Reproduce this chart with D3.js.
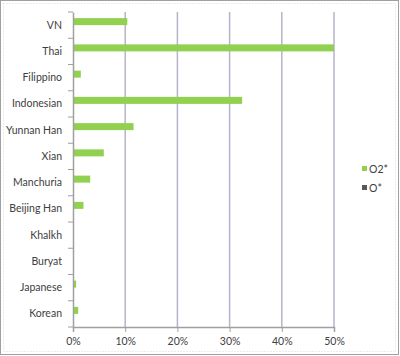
<!DOCTYPE html>
<html><head><meta charset="utf-8">
<script src="https://cdn.jsdelivr.net/npm/d3@7"></script>
<style>body{margin:0;background:#fff}svg{display:block}text{font-family:Lato,"Open Sans",sans-serif}</style>
</head><body>
<script>
const categories = ["VN","Thai","Filippino","Indonesian","Yunnan Han","Xian","Manchuria","Beijing Han","Khalkh","Buryat","Japanese","Korean"];
const seriesNames = ["O2*","O*"];
const o2Values = [10.4, 50, 1.5, 32.4, 11.6, 5.9, 3.3, 2.0, 0, 0, 0.6, 1.0];
const oValues  = [0, 0, 0, 0, 0, 0, 0, 0, 0, 0, 0, 0];
const xTicks = [0,10,20,30,40,50];
const colors = ["#92d050","#595959"];

const W=400,H=356;
const svg=d3.select("body").append("svg").attr("width",W).attr("height",H);
svg.append("rect").attr("x",0.5).attr("y",0.5).attr("width",398).attr("height",354).attr("fill","#fff").attr("stroke","#a0a0a0");
svg.append("rect").attr("x",3.5).attr("y",3.5).attr("width",392).attr("height",348).attr("fill","none").attr("stroke","#d8d8d8").attr("stroke-dasharray","1,2");

const m={l:73,r:334,t:12,b:327};
const x=d3.scaleLinear().domain([0,50]).range([m.l,m.r]);
const y=d3.scaleBand().domain(categories).range([m.t,m.b]);
const barH=7;
const yOff=s=>y.bandwidth()/2 - barH + seriesNames.indexOf(s)*barH;

// gridlines
svg.append("g").selectAll("line").data(xTicks.slice(1)).join("line")
 .attr("x1",d=>x(d)).attr("x2",d=>x(d)).attr("y1",m.t).attr("y2",m.b)
 .attr("stroke","#b4b4cc").attr("stroke-width",1.5);

// bars
const data=[o2Values,oValues];
seriesNames.forEach((s,si)=>{
 svg.append("g").selectAll("rect").data(categories).join("rect")
  .attr("x",x(0)).attr("y",c=>y(c)+yOff(s))
  .attr("width",(c,i)=>x(data[si][i])-x(0)).attr("height",barH)
  .attr("fill",colors[si]);
});

// y axis
const ya=svg.append("g").attr("transform",`translate(${m.l},0)`)
 .call(d3.axisLeft(y).tickSize(0).tickPadding(11));
ya.select(".domain").attr("stroke","#a0a0a0").attr("stroke-width",1.5);
ya.selectAll("text").attr("font-size",10.5).attr("fill","#404040");
svg.append("g").selectAll("line").data(d3.range(categories.length+1)).join("line")
 .attr("x1",m.l-5).attr("x2",m.l).attr("y1",i=>m.t+i*y.step()).attr("y2",i=>m.t+i*y.step())
 .attr("stroke","#a0a0a0");

// x axis
const xa=svg.append("g").attr("transform",`translate(0,${m.b})`)
 .call(d3.axisBottom(x).tickValues(xTicks).tickFormat(d=>d+"%").tickSize(5).tickPadding(6));
xa.select(".domain").attr("stroke","#a0a0a0").attr("stroke-width",1.5);
xa.selectAll("line").attr("stroke","#a0a0a0");
xa.selectAll("text").attr("font-size",10.5).attr("fill","#404040");

// legend
const lg=svg.append("g").attr("transform","translate(362,165)");
seriesNames.forEach((s,i)=>{
 lg.append("rect").attr("x",0).attr("y",i*19+1).attr("width",5).attr("height",5).attr("fill",colors[i]);
 lg.append("text").attr("x",7).attr("y",i*19+7.5).attr("font-size",10.5).attr("fill","#404040").text(s);
});
</script>
</body></html>
